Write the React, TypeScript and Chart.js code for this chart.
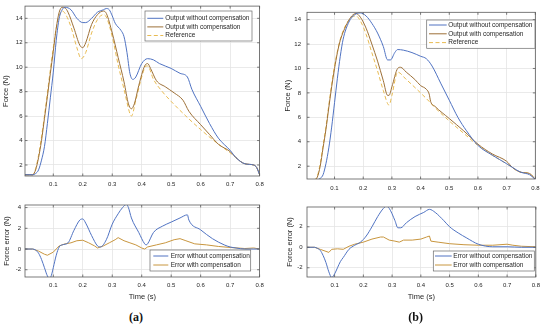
import React, { useEffect, useRef } from "react";
import { Chart, registerables } from "chart.js";

Chart.register(...registerables);

// ---------------- data ----------------
const xTicks = [0.1, 0.2, 0.3, 0.4, 0.5, 0.6, 0.7, 0.8];
const forceTicks = [2, 4, 6, 8, 10, 12, 14];
const errTicksA = [-2, 0, 2, 4];
const errTicksB = [-2, 0, 2];

const seriesNames = ["Output without compensation", "Output with compensation", "Reference"];
const errNames = ["Error without compensation", "Error with compensation"];

// (a) force
const aWithoutT = [0.004,0.03,0.04,0.05,0.06,0.07,0.08,0.09,0.10,0.11,0.12,0.13,0.14,0.16,0.18,0.20,0.21,0.23,0.25,0.27,0.28,0.29,0.30,0.31,0.33,0.34,0.35,0.36,0.37,0.38,0.40,0.42,0.44,0.46,0.50,0.53,0.555,0.57,0.60,0.63,0.66,0.70,0.72,0.75,0.78,0.79,0.80];
const aWithoutF = [1.2,1.2,1.3,1.6,2.4,3.5,5.4,7.5,9.6,12.2,14.0,14.7,14.9,14.7,14.0,13.65,13.65,14,14.5,14.7,14.8,14.7,14.2,13.6,13.0,12.5,11.2,9.5,9.0,9.2,10.3,10.7,10.6,10.3,9.9,9.5,9.2,8.2,6.8,5.4,4.2,3.2,2.6,2.1,2.0,1.8,1.2];
const aWithT = [0.004,0.03,0.04,0.05,0.06,0.07,0.08,0.09,0.10,0.11,0.12,0.13,0.14,0.15,0.17,0.19,0.20,0.21,0.23,0.25,0.27,0.28,0.30,0.32,0.34,0.355,0.365,0.375,0.39,0.41,0.42,0.43,0.45,0.48,0.51,0.54,0.56,0.60,0.63,0.66,0.70,0.72,0.75,0.78,0.79,0.80];
const aWithF = [1.2,1.2,1.6,2.6,4,5.8,7.6,9.5,11.3,13.2,14.5,14.9,14.85,14.5,13.2,11.8,11.6,12,13.5,14.3,14.6,14.4,12.8,10.8,8.8,7,6.6,7,8.5,10.1,10.3,9.9,8.9,8.4,7.9,7.3,6.4,5.3,4.5,3.7,3.1,2.6,2.1,2.0,1.8,1.2];
const aRefT = [0.004,0.03,0.04,0.05,0.06,0.07,0.08,0.09,0.10,0.11,0.12,0.13,0.14,0.16,0.18,0.195,0.21,0.23,0.25,0.27,0.28,0.30,0.32,0.34,0.36,0.365,0.38,0.40,0.415,0.42,0.44,0.47,0.50,0.55,0.60,0.65,0.70,0.75,0.78,0.79,0.80];
const aRefF = [1.2,1.2,1.7,2.8,4.3,6,7.9,9.8,11.6,13.2,14.2,14.6,14.4,13.3,11.6,10.7,11.2,12.8,13.9,14.3,14.1,12.5,10.2,8.2,6.2,6.0,7.3,9.2,10.1,10.1,9.0,8.0,7.2,6.0,4.9,3.9,3.0,2.1,2.0,1.8,1.2];

// (a) error
const aErrWithoutT = [0.004,0.03,0.04,0.05,0.06,0.07,0.08,0.088,0.095,0.10,0.11,0.12,0.13,0.15,0.17,0.19,0.20,0.21,0.23,0.25,0.26,0.28,0.30,0.32,0.335,0.348,0.355,0.365,0.39,0.41,0.415,0.42,0.44,0.47,0.50,0.53,0.555,0.56,0.60,0.64,0.68,0.70,0.72,0.75,0.80];
const aErrWithoutF = [0,0,-0.1,-0.4,-1.0,-1.8,-2.6,-2.85,-2.4,-1.8,-0.6,0.2,0.4,0.6,1.8,2.8,2.9,2.5,1.3,0.3,0.2,0.9,2.4,3.4,4.0,4.3,4.0,3.0,1.6,0.5,0.4,0.5,1.6,2.2,2.6,3.0,3.3,2.8,1.85,1.0,0.4,0.2,0.1,0,0];
const aErrWithT = [0.004,0.03,0.05,0.07,0.08,0.10,0.12,0.14,0.16,0.18,0.20,0.22,0.24,0.25,0.27,0.29,0.31,0.32,0.34,0.36,0.38,0.40,0.41,0.42,0.45,0.48,0.51,0.53,0.55,0.58,0.62,0.66,0.70,0.75,0.78,0.80];
const aErrWithF = [0,0,-0.2,-0.5,-0.6,-0.3,0.3,0.5,0.6,0.8,0.85,0.6,0.3,0.1,0.3,0.6,0.9,1.1,0.8,0.6,0.4,0.1,0.0,0.2,0.4,0.6,0.9,1.0,0.8,0.5,0.4,0.25,0.15,0.05,0.1,0];

// (b) force
const bWithoutT = [0.004,0.04,0.05,0.06,0.07,0.08,0.09,0.10,0.11,0.12,0.13,0.15,0.17,0.19,0.21,0.23,0.25,0.27,0.285,0.295,0.31,0.32,0.34,0.37,0.40,0.42,0.44,0.47,0.50,0.53,0.56,0.60,0.65,0.70,0.72,0.75,0.78,0.80];
const bWithoutF = [0.9,0.9,1.0,1.3,2.2,3.5,5.2,7.2,9.2,11.0,12.4,13.8,14.4,14.55,14.3,13.7,12.9,11.8,10.7,10.7,11.3,11.55,11.5,11.3,11.0,10.8,10.2,8.8,7.4,6.0,4.9,3.7,2.9,2.2,1.9,1.5,1.3,0.9];
const bWithT = [0.004,0.03,0.04,0.05,0.06,0.07,0.08,0.09,0.10,0.11,0.12,0.14,0.16,0.175,0.19,0.21,0.23,0.25,0.27,0.285,0.29,0.30,0.32,0.33,0.35,0.38,0.40,0.42,0.43,0.435,0.45,0.50,0.55,0.60,0.65,0.70,0.72,0.75,0.78,0.80];
const bWithF = [0.9,0.9,1.1,2.0,3.5,5.0,6.8,8.5,10.0,11.3,12.3,13.5,14.3,14.5,14.2,13.3,12.0,10.6,9.0,7.8,7.8,8.5,10.0,10.1,9.7,9.1,8.6,8.3,7.9,7.3,6.9,5.9,4.9,3.8,3.0,2.4,1.9,1.5,1.4,0.9];
const bRefT = [0.004,0.03,0.04,0.05,0.06,0.07,0.08,0.09,0.10,0.11,0.12,0.14,0.16,0.175,0.19,0.21,0.23,0.25,0.27,0.29,0.30,0.32,0.35,0.40,0.43,0.45,0.50,0.55,0.60,0.65,0.70,0.75,0.78,0.80];
const bRefF = [0.9,0.9,1.2,2.2,3.7,5.2,7.0,8.7,10.2,11.4,12.4,13.6,14.2,14.3,13.9,12.8,11.3,9.8,8.2,7.0,7.8,9.7,9.1,8.0,7.3,6.8,5.7,4.7,3.7,2.9,2.2,1.5,1.4,0.9];

// (b) error
const bErrWithoutT = [0.004,0.03,0.04,0.05,0.06,0.07,0.08,0.09,0.10,0.11,0.12,0.13,0.15,0.17,0.19,0.21,0.23,0.25,0.27,0.28,0.29,0.31,0.32,0.33,0.35,0.38,0.41,0.43,0.45,0.48,0.50,0.53,0.56,0.60,0.65,0.70,0.75,0.80];
const bErrWithoutF = [0,0,-0.1,-0.3,-0.8,-1.5,-2.4,-2.95,-2.6,-2.0,-1.4,-1.0,-0.2,0.2,0.5,1.1,2.0,3.0,3.8,4.0,3.8,2.6,1.9,1.9,2.4,3.0,3.4,3.7,3.4,2.6,2.0,1.4,0.9,0.3,0.05,0.05,0,0];
const bErrWithT = [0.004,0.03,0.05,0.07,0.08,0.09,0.11,0.13,0.15,0.17,0.20,0.23,0.26,0.27,0.29,0.31,0.325,0.34,0.37,0.40,0.42,0.43,0.435,0.46,0.50,0.55,0.60,0.65,0.70,0.72,0.75,0.80];
const bErrWithF = [0,0,-0.2,-0.4,-0.5,-0.2,-0.15,-0.2,0.1,0.3,0.5,0.8,1.0,1.0,0.7,0.6,0.5,0.7,0.7,0.8,1.0,1.1,0.6,0.5,0.35,0.25,0.2,0.2,0.3,0.2,0.1,0.05];

// ---------------- styling ----------------
const BLUE = "#5073c2";
const BROWN = "#9d7038";
const REF = "#e8bb52";
const TAN = "#c8963f";
const FONT = "'Liberation Sans', Arial, Helvetica, sans-serif";
const TEXT = "#262626";

const zip = (xs: number[], ys: number[]) => xs.map((x, i) => ({ x, y: ys[i] }));

const framePlugin = {
  id: "matlabFrame",
  afterDatasetsDraw(chart: any) {
    const { ctx, chartArea: a, scales } = chart;
    ctx.save();
    ctx.strokeStyle = "#5a5a5a";
    ctx.lineWidth = 0.8;
    ctx.strokeRect(a.left, a.top, a.right - a.left, a.bottom - a.top);
    const tl = 2.5;
    ctx.beginPath();
    scales.x.ticks.forEach((t: any) => {
      const px = scales.x.getPixelForValue(t.value);
      ctx.moveTo(px, a.bottom); ctx.lineTo(px, a.bottom - tl);
      ctx.moveTo(px, a.top); ctx.lineTo(px, a.top + tl);
    });
    scales.y.ticks.forEach((t: any) => {
      const py = scales.y.getPixelForValue(t.value);
      ctx.moveTo(a.left, py); ctx.lineTo(a.left + tl, py);
      ctx.moveTo(a.right, py); ctx.lineTo(a.right - tl, py);
    });
    ctx.stroke();
    ctx.restore();
  },
};

const legendPlugin = {
  id: "boxLegend",
  afterDraw(chart: any, _args: any, opts: any) {
    if (!opts || !opts.box) return;
    const { ctx } = chart;
    const [bx, by, bw, bh] = opts.box;
    ctx.save();
    ctx.fillStyle = "#ffffff";
    ctx.fillRect(bx, by, bw, bh);
    ctx.strokeStyle = "#6a6a6a";
    ctx.lineWidth = 0.7;
    ctx.strokeRect(bx, by, bw, bh);
    ctx.font = `6.5px ${FONT}`;
    ctx.textBaseline = "middle";
    ctx.fillStyle = TEXT;
    const ds = chart.data.datasets;
    opts.rows.forEach((ry: number, i: number) => {
      const d = ds[i];
      ctx.beginPath();
      ctx.strokeStyle = d.borderColor;
      ctx.lineWidth = 1;
      ctx.setLineDash(d.borderDash || []);
      ctx.moveTo(opts.sample[0], ry);
      ctx.lineTo(opts.sample[1], ry);
      ctx.stroke();
      ctx.setLineDash([]);
      ctx.fillText(d.label, opts.textX, ry);
    });
    ctx.restore();
  },
};

type Spec = {
  left: number; top: number; w: number; h: number;
  datasets: any[];
  yMin: number; yMax: number; yTicks: number[];
  yTitle: string; yTitlePad: number; yTickPad: number; yWidth: number;
  xHeight: number; xTickPad: number; xTitle?: string; xTitlePad?: number;
  padTop: number; padRight: number;
  legend: any;
};

function line(label: string, xs: number[], ys: number[], color: string, dash?: number[], smooth = true) {
  return {
    label,
    data: zip(xs, ys),
    borderColor: color,
    backgroundColor: color,
    borderWidth: 1,
    borderDash: dash,
    pointRadius: 0,
    fill: false,
    cubicInterpolationMode: smooth ? "monotone" : "default",
    tension: smooth ? 0.4 : 0,
  };
}

const specs: Spec[] = [
  {
    left: 0, top: 0, w: 270, h: 192,
    datasets: [
      line(seriesNames[0], aWithoutT, aWithoutF, BLUE),
      line(seriesNames[1], aWithT, aWithF, BROWN),
      line(seriesNames[2], aRefT, aRefF, REF, [4, 2.5]),
    ],
    yMin: 1.1, yMax: 15, yTicks: forceTicks,
    yTitle: "Force (N)", yTitlePad: 1.5, yTickPad: 2.5, yWidth: 25,
    xHeight: 16, xTickPad: 5, padTop: 4, padRight: 10.4,
    legend: { box: [145, 11, 107, 30], rows: [18.3, 26.9, 35.5], sample: [147.3, 163.3], textX: 165.3 },
  },
  {
    left: 0, top: 195, w: 270, h: 110,
    datasets: [
      line(errNames[0], aErrWithoutT, aErrWithoutF, BLUE),
      line(errNames[1], aErrWithT, aErrWithF, TAN, undefined, false),
    ],
    yMin: -2.7, yMax: 4.25, yTicks: errTicksA,
    yTitle: "Force error (N)", yTitlePad: 2.8, yTickPad: 4, yWidth: 25,
    xHeight: 28, xTickPad: 5, xTitle: "Time (s)", xTitlePad: 3.5, padTop: 10, padRight: 10.4,
    legend: { box: [150, 55, 100.7, 21], rows: [61, 70], sample: [153.3, 168.3], textX: 170.7 },
  },
  {
    left: 275, top: 0, w: 270, h: 197,
    datasets: [
      line(seriesNames[0], bWithoutT, bWithoutF, BLUE),
      line(seriesNames[1], bWithT, bWithF, BROWN),
      line(seriesNames[2], bRefT, bRefF, REF, [4, 2.5]),
    ],
    yMin: 0.95, yMax: 14.6, yTicks: forceTicks,
    yTitle: "Force (N)", yTitlePad: 8.8, yTickPad: 6, yWidth: 32,
    xHeight: 18, xTickPad: 5.5, padTop: 12.3, padRight: 5,
    legend: { box: [151.7, 20, 108.3, 28.3], rows: [25, 33.8, 42.6], sample: [154, 171.7], textX: 173.3 },
  },
  {
    left: 275, top: 195, w: 270, h: 110,
    datasets: [
      line(errNames[0], bErrWithoutT, bErrWithoutF, BLUE),
      line(errNames[1], bErrWithT, bErrWithF, TAN, undefined, false),
    ],
    yMin: -2.9, yMax: 3.93, yTicks: errTicksB,
    yTitle: "Force error (N)", yTitlePad: 10.5, yTickPad: 4.5, yWidth: 32,
    xHeight: 28, xTickPad: 5, xTitle: "Time (s)", xTitlePad: 3.5, padTop: 12, padRight: 5,
    legend: { box: [158.3, 56, 101, 20], rows: [61, 70], sample: [160, 176.7], textX: 178.3 },
  },
];

function makeChart(canvas: HTMLCanvasElement, s: Spec) {
  return new Chart(canvas, {
    type: "line",
    data: { datasets: s.datasets },
    options: {
      animation: false,
      responsive: false,
      maintainAspectRatio: false,
      devicePixelRatio: 1,
      layout: { padding: { top: s.padTop, right: s.padRight, left: 0, bottom: 0 } },
      plugins: {
        legend: { display: false },
        tooltip: { enabled: false },
        boxLegend: s.legend,
      },
      scales: {
        x: {
          type: "linear",
          min: 0.004,
          max: 0.8,
          afterBuildTicks: (sc: any) => { sc.ticks = xTicks.map((v) => ({ value: v })); },
          afterFit: (sc: any) => { sc.height = s.xHeight; },
          grid: { color: "#e4e4e4", lineWidth: 0.8, drawTicks: false },
          border: { display: false },
          ticks: {
            font: { family: FONT, size: 6 },
            color: TEXT,
            padding: s.xTickPad,
            maxRotation: 0,
            autoSkip: false,
            callback: (v: any) => Number(v).toFixed(1),
          },
          title: s.xTitle
            ? { display: true, text: s.xTitle, font: { family: FONT, size: 7.5 }, color: TEXT, padding: { top: 0, bottom: s.xTitlePad } }
            : { display: false },
        },
        y: {
          type: "linear",
          min: s.yMin,
          max: s.yMax,
          afterBuildTicks: (sc: any) => { sc.ticks = s.yTicks.map((v) => ({ value: v })); },
          afterFit: (sc: any) => { sc.width = s.yWidth; },
          grid: { color: "#e4e4e4", lineWidth: 0.8, drawTicks: false },
          border: { display: false },
          ticks: {
            font: { family: FONT, size: 6 },
            color: TEXT,
            padding: s.yTickPad,
            autoSkip: false,
            callback: (v: any) => String(v),
          },
          title: { display: true, text: s.yTitle, font: { family: FONT, size: 7.5 }, color: TEXT, padding: { top: s.yTitlePad, bottom: 0 } },
        },
      },
    } as any,
    plugins: [framePlugin, legendPlugin],
  });
}

function Panel({ spec }: { spec: Spec }) {
  const ref = useRef<HTMLCanvasElement | null>(null);
  useEffect(() => {
    if (!ref.current) return;
    const c = makeChart(ref.current, spec);
    return () => c.destroy();
  }, [spec]);
  return (
    <canvas
      ref={ref}
      width={spec.w}
      height={spec.h}
      style={{ position: "absolute", left: spec.left, top: spec.top, width: spec.w, height: spec.h }}
    />
  );
}

const capStyle: React.CSSProperties = {
  position: "absolute",
  top: 310,
  width: 40,
  textAlign: "center",
  fontFamily: "'Liberation Serif', 'Times New Roman', serif",
  fontWeight: "bold",
  fontSize: 12,
  lineHeight: "14px",
  color: "#111",
};

export default function App() {
  return (
    <div style={{ position: "absolute", left: 0, top: 0, width: 550, height: 326, background: "#fff", overflow: "hidden" }}>
      {specs.map((s, i) => (
        <Panel key={i} spec={s} />
      ))}
      <div style={{ ...capStyle, left: 116 }}>(a)</div>
      <div style={{ ...capStyle, left: 395.6 }}>(b)</div>
    </div>
  );
}
